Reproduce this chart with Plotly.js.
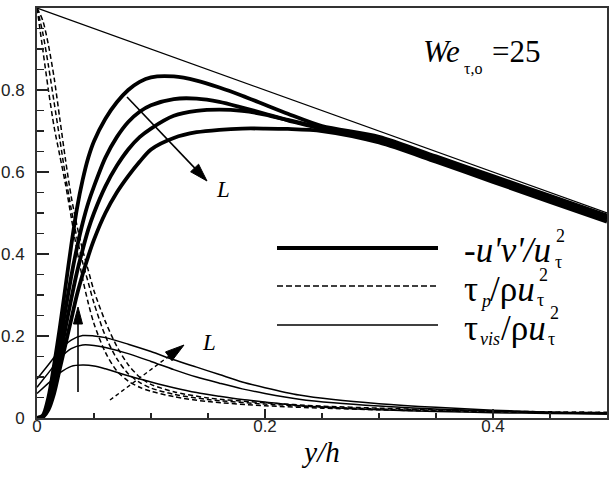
<!DOCTYPE html>
<html>
<head>
<meta charset="utf-8">
<script src="https://cdn.plot.ly/plotly-3.0.1.min.js"></script>
<style>html,body{margin:0;padding:0;background:#fff;}#chart{width:614px;height:478px;}</style>
</head>
<body>
<div id="chart"></div>
<script>
// ---- data ----
var xTotal = [0, 0.5];
var yTotal = [1, 0.5];

var xR = [0, 0.005, 0.01, 0.015, 0.02, 0.025, 0.03, 0.035, 0.04, 0.045, 0.05, 0.06, 0.07, 0.08, 0.09, 0.1, 0.12, 0.14, 0.16, 0.18, 0.2, 0.22, 0.25, 0.3, 0.35, 0.4, 0.45, 0.5];
var R1 = [0, 0.006, 0.05, 0.13, 0.22, 0.32, 0.42, 0.51, 0.58, 0.635, 0.675, 0.73, 0.77, 0.8, 0.82, 0.831, 0.833, 0.823, 0.806, 0.786, 0.764, 0.742, 0.712, 0.686, 0.638, 0.59, 0.542, 0.494];
var R2 = [0, 0.004, 0.035, 0.1, 0.18, 0.265, 0.345, 0.415, 0.475, 0.525, 0.565, 0.635, 0.685, 0.722, 0.747, 0.763, 0.778, 0.779, 0.771, 0.757, 0.742, 0.727, 0.708, 0.681, 0.634, 0.585, 0.537, 0.489];
var R3 = [0, 0.003, 0.025, 0.075, 0.145, 0.22, 0.29, 0.355, 0.41, 0.46, 0.5, 0.565, 0.615, 0.655, 0.685, 0.706, 0.737, 0.749, 0.752, 0.749, 0.74, 0.726, 0.705, 0.677, 0.63, 0.581, 0.533, 0.485];
var R4 = [0, 0.002, 0.02, 0.06, 0.12, 0.18, 0.24, 0.3, 0.35, 0.395, 0.435, 0.5, 0.55, 0.59, 0.625, 0.655, 0.683, 0.697, 0.703, 0.706, 0.706, 0.705, 0.7, 0.672, 0.625, 0.576, 0.527, 0.479];

var xP = [0, 0.005, 0.01, 0.015, 0.02, 0.025, 0.03, 0.035, 0.04, 0.045, 0.05, 0.06, 0.07, 0.08, 0.09, 0.1, 0.12, 0.15, 0.2, 0.25, 0.3, 0.35, 0.4, 0.45, 0.5];
var P1 = [1, 0.9, 0.8, 0.71, 0.64, 0.57, 0.49, 0.41, 0.34, 0.28, 0.23, 0.16, 0.115, 0.09, 0.075, 0.065, 0.052, 0.04, 0.03, 0.024, 0.02, 0.017, 0.015, 0.013, 0.012];
var P2 = [1, 0.94, 0.86, 0.77, 0.68, 0.59, 0.51, 0.44, 0.38, 0.33, 0.28, 0.2, 0.145, 0.108, 0.087, 0.073, 0.058, 0.045, 0.034, 0.027, 0.022, 0.019, 0.016, 0.014, 0.013];
var P3 = [1, 0.97, 0.91, 0.83, 0.73, 0.63, 0.54, 0.47, 0.41, 0.36, 0.31, 0.235, 0.175, 0.13, 0.1, 0.082, 0.064, 0.049, 0.037, 0.029, 0.024, 0.02, 0.017, 0.015, 0.014];

var xV = [0, 0.01, 0.02, 0.03, 0.04, 0.05, 0.06, 0.08, 0.1, 0.12, 0.14, 0.16, 0.18, 0.2, 0.23, 0.26, 0.3, 0.35, 0.4, 0.45, 0.5];
var VA = [0.095, 0.13, 0.165, 0.19, 0.201, 0.2, 0.196, 0.18, 0.162, 0.142, 0.124, 0.106, 0.088, 0.074, 0.056, 0.045, 0.035, 0.026, 0.019, 0.014, 0.011];
var VB = [0.075, 0.11, 0.145, 0.169, 0.178, 0.177, 0.172, 0.157, 0.138, 0.118, 0.1, 0.085, 0.071, 0.06, 0.046, 0.037, 0.029, 0.022, 0.017, 0.013, 0.01];
var VC = [0.06, 0.085, 0.11, 0.126, 0.129, 0.127, 0.12, 0.103, 0.088, 0.074, 0.062, 0.053, 0.045, 0.039, 0.03, 0.025, 0.02, 0.016, 0.013, 0.011, 0.01];

var xTickVals = [0, 0.2, 0.4];
var xTickText = ['0', '0.2', '0.4'];
var yTickVals = [0, 0.2, 0.4, 0.6, 0.8, 1];
var yTickText = ['0', '0.2', '0.4', '0.6', '0.8', '1'];

// legend label pieces
var lab1 = ["<i>-u'v'/u</i>", "τ", "2"];
var lab2 = ["τ", "<i>p</i>", "/ρ<i>u</i>", "τ", "2"];
var lab3 = ["τ", "<i>vis</i>", "/ρ<i>u</i>", "τ", "2"];
var weLabel = ["<i>We</i>", "τ,o", "=25"];

// ---- layout geometry ----
var W = 614, H = 478, ML = 37, MR = 7, MT = 8, MB = 60;
var X0 = 0, X1 = 0.5, Y0 = 0, Y1 = 1;
function P(px, py) {
  return [X0 + (px - ML) / (W - ML - MR) * (X1 - X0), Y0 + (H - MB - py) / (H - MT - MB) * (Y1 - Y0)];
}
function lineShape(a, b, w, dash) {
  var p = P(a[0], a[1]), q = P(b[0], b[1]);
  return {type: 'line', xref: 'x', yref: 'y', x0: p[0], y0: p[1], x1: q[0], y1: q[1],
          line: {color: '#000', width: w, dash: dash || 'solid'}};
}
function headShape(tail, tip, len, hw) {
  var dx = tip[0] - tail[0], dy = tip[1] - tail[1];
  var L = Math.sqrt(dx * dx + dy * dy); var ux = dx / L, uy = dy / L;
  var bx = tip[0] - ux * len, by = tip[1] - uy * len;
  var a = P(tip[0], tip[1]), b = P(bx - uy * hw, by + ux * hw), c = P(bx + uy * hw, by - ux * hw);
  return {type: 'path', xref: 'x', yref: 'y',
          path: 'M' + a[0] + ',' + a[1] + ' L' + b[0] + ',' + b[1] + ' L' + c[0] + ',' + c[1] + ' Z',
          fillcolor: '#000', line: {color: '#000', width: 1}};
}
function arrow(tail, tip, len, hw, w, dash) {
  var dx = tip[0] - tail[0], dy = tip[1] - tail[1];
  var L = Math.sqrt(dx * dx + dy * dy);
  var base = [tip[0] - dx / L * (len - 2), tip[1] - dy / L * (len - 2)];
  return [lineShape(tail, base, w, dash), headShape(tail, tip, len, hw)];
}

var thick = {color: '#000', width: 3.8, shape: 'spline', smoothing: 0.8};
var thin = {color: '#000', width: 1.5, shape: 'spline', smoothing: 0.8};
var dashed = {color: '#000', width: 1.5, dash: '5px,3px', shape: 'spline', smoothing: 0.8};

var traces = [
  {x: xTotal, y: yTotal, mode: 'lines', line: {color: '#000', width: 1.2}},
  {x: xR, y: R1, mode: 'lines', line: thick},
  {x: xR, y: R2, mode: 'lines', line: thick},
  {x: xR, y: R3, mode: 'lines', line: thick},
  {x: xR, y: R4, mode: 'lines', line: thick},
  {x: xP, y: P1, mode: 'lines', line: dashed},
  {x: xP, y: P2, mode: 'lines', line: dashed},
  {x: xP, y: P3, mode: 'lines', line: dashed},
  {x: xV, y: VA, mode: 'lines', line: thin},
  {x: xV, y: VB, mode: 'lines', line: thin},
  {x: xV, y: VC, mode: 'lines', line: thin}
];

var shapes = [];
shapes = shapes.concat(arrow([127, 97], [207, 181], 18, 5.5, 1.6));
shapes = shapes.concat(arrow([78, 392], [78, 307], 17, 4.5, 1.6));
shapes = shapes.concat(arrow([110, 400], [184, 345], 19, 5.5, 1.4, '4px,3px'));
function paperLine(x0, x1, py, w, dash) {
  return {type: 'line', xref: 'paper', yref: 'paper',
          x0: (x0 - ML) / (W - ML - MR), x1: (x1 - ML) / (W - ML - MR),
          y0: (H - MB - py) / (H - MT - MB), y1: (H - MB - py) / (H - MT - MB),
          line: {color: '#000', width: w, dash: dash || 'solid'}};
}
shapes.push(paperLine(277, 438, 248, 4));
shapes.push(paperLine(277, 438, 286, 1.5, '6px,3px'));
shapes.push(paperLine(277, 438, 325, 1.5));

var SERIF = 'Liberation Serif';
function ann(px, py, text, size) {
  var p = P(px, py);
  return {x: p[0], y: p[1], xref: 'x', yref: 'y', text: text, showarrow: false,
          xanchor: 'left', yanchor: 'middle',
          font: {family: SERIF, size: size, color: '#000'}};
}
var BIG = 35, SM = 18;
var annotations = [
  ann(421, 51, weLabel[0], 31),
  ann(462, 68, weLabel[1], 16),
  ann(490, 51, weLabel[2], 31),
  ann(214, 189, "<i>L</i>", 23),
  ann(200, 342, "<i>L</i>", 23),
  // legend label 1
  ann(462, 250, lab1[0], BIG),
  ann(553, 262, lab1[1], SM),
  ann(554, 236, lab1[2], SM),
  // legend label 2
  ann(462, 289, lab2[0], BIG),
  ann(478, 301, lab2[1], SM),
  ann(488, 289, lab2[2], BIG),
  ann(535, 300, lab2[3], SM),
  ann(537, 275, lab2[4], SM),
  // legend label 3
  ann(462, 328, lab3[0], BIG),
  ann(478, 339, lab3[1], SM),
  ann(499, 328, lab3[2], BIG),
  ann(546, 339, lab3[3], SM),
  ann(548, 313, lab3[4], SM)
];

var axisFont = {family: 'Liberation Sans', size: 17, color: '#222'};
var layout = {
  width: W, height: H,
  font: {family: SERIF, color: '#000'},
  margin: {l: ML, r: MR, t: MT, b: MB},
  paper_bgcolor: '#fff', plot_bgcolor: '#fff',
  showlegend: false,
  xaxis: {range: [X0, X1], showgrid: false, zeroline: false,
          showline: true, linecolor: '#333', linewidth: 2, mirror: true,
          ticks: 'inside', ticklen: 9, tickwidth: 1.5, tickcolor: '#222',
          tickmode: 'array', tickvals: xTickVals, ticktext: xTickText,
          minor: {tickmode: 'linear', tick0: 0, dtick: 0.05, ticks: 'inside', ticklen: 5, tickwidth: 1.2, tickcolor: '#222', showgrid: false},
          tickfont: axisFont, ticklabelstandoff: -8,
          title: {text: '<i>y/h</i>', font: {family: SERIF, size: 29, color: '#000'}, standoff: 6}},
  yaxis: {range: [Y0, Y1], showgrid: false, zeroline: false,
          showline: true, linecolor: '#333', linewidth: 2, mirror: true,
          ticks: 'inside', ticklen: 12, tickwidth: 1.5, tickcolor: '#222',
          tickmode: 'array', tickvals: yTickVals, ticktext: yTickText,
          minor: {tickmode: 'linear', tick0: 0, dtick: 0.05, ticks: 'inside', ticklen: 7, tickwidth: 1.2, tickcolor: '#222', showgrid: false},
          tickfont: axisFont, ticklabelstandoff: 7},
  shapes: shapes,
  annotations: annotations
};

Plotly.newPlot('chart', traces, layout, {displayModeBar: false, staticPlot: true});
</script>
</body>
</html>
